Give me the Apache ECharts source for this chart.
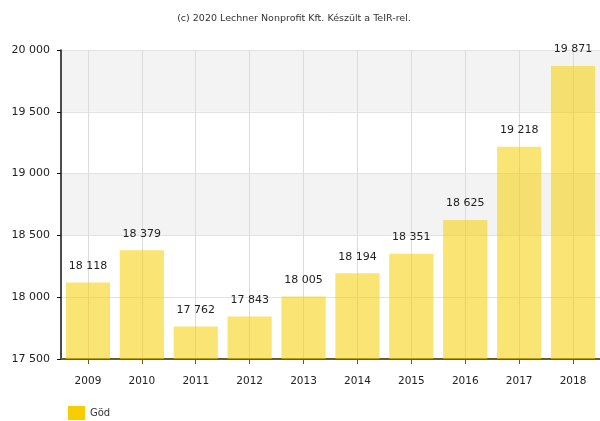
<!DOCTYPE html>
<html>
<head>
<meta charset="utf-8">
<script src="https://cdn.jsdelivr.net/npm/echarts@6/dist/echarts.min.js"></script>
<style>
  html, body { margin: 0; padding: 0; background: #fff; }
  #chart { width: 600px; height: 421px; }
</style>
</head>
<body>
<div id="chart"></div>
<script>
// Population of Göd, 2009–2018
const years = ['2009', '2010', '2011', '2012', '2013', '2014', '2015', '2016', '2017', '2018'];
const population = [18118, 18379, 17762, 17843, 18005, 18194, 18351, 18625, 19218, 19871];
const seriesName = 'Göd';
const footerText = '(c) 2020 Lechner Nonprofit Kft. Készült a TeIR-rel.';

// thousands separated by a space, e.g. 18 118
function fmt(v) {
  return String(v).replace(/\B(?=(\d{3})+(?!\d))/g, ' ');
}

const chart = echarts.init(document.getElementById('chart'), null, { renderer: 'canvas' });
const FONT = 'DejaVu Sans';

chart.setOption({
  animation: false,
  backgroundColor: '#ffffff',
  title: {
    text: footerText,
    left: 289,
    textAlign: 'center',
    top: 9,
    textStyle: { fontFamily: FONT, fontSize: 9.5, fontWeight: 'normal', color: '#333' }
  },
  legend: {
    left: 63,
    top: 401,
    itemWidth: 17,
    itemHeight: 14,
    icon: 'rect',
    textStyle: { fontFamily: FONT, fontSize: 10, color: '#333' },
    data: [{ name: seriesName, itemStyle: { color: '#f5cd00' } }]
  },
  // the plot runs slightly past the right edge of the canvas
  grid: { left: 61, right: -3, top: 50, bottom: 62, containLabel: false },
  xAxis: {
    type: 'category',
    data: years,
    boundaryGap: true,
    axisLine: { show: true, lineStyle: { color: '#6b5d2a', width: 1.8 } },
    axisTick: { show: true, alignWithLabel: true, length: 5, lineStyle: { color: '#6b5d2a' } },
    axisLabel: { fontFamily: FONT, fontSize: 10.5, color: '#222', margin: 17 },
    // vertical grid lines through the category centres
    splitLine: { show: true, alignWithLabel: true, lineStyle: { color: '#dcdcdc', width: 1 } }
  },
  yAxis: {
    type: 'value',
    min: 17500,
    max: 20000,
    interval: 500,
    axisLine: { show: true, lineStyle: { color: '#111', width: 1.5 } },
    axisTick: { show: true, length: 4, lineStyle: { color: '#111' } },
    axisLabel: { fontFamily: FONT, fontSize: 11, color: '#222', margin: 11, formatter: fmt },
    splitLine: { show: true, lineStyle: { color: '#e2e2e2', width: 1 } },
    splitArea: {
      show: true,
      areaStyle: { color: ['#ffffff', '#ffffff', '#f3f3f3', '#ffffff', '#f3f3f3'] }
    }
  },
  series: [{
    name: seriesName,
    type: 'bar',
    data: population,
    barCategoryGap: '18%',
    itemStyle: { color: 'rgba(245,205,0,0.55)' },
    label: {
      show: true,
      position: 'top',
      distance: 11,
      fontFamily: FONT,
      fontSize: 11,
      color: '#222',
      formatter: p => fmt(p.value)
    }
  }]
});
</script>
</body>
</html>
